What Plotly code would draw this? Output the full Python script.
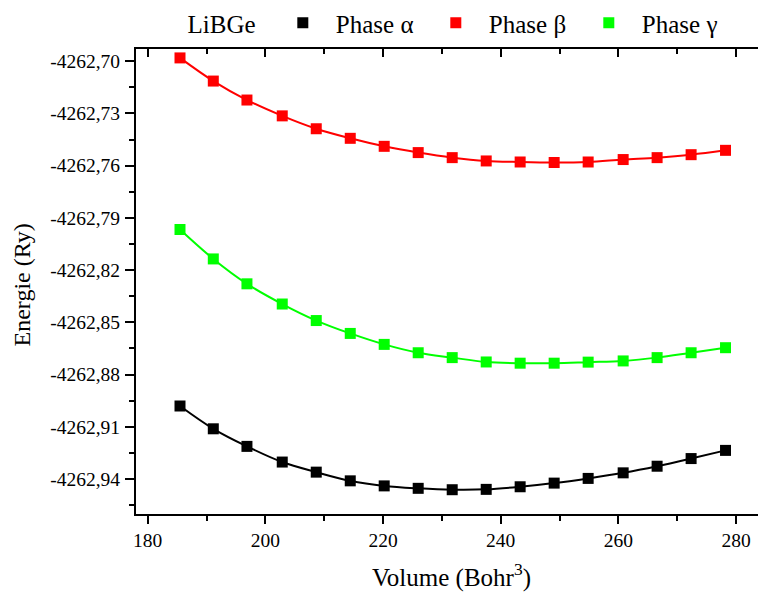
import plotly.graph_objects as go

# ---- data ----
volume = [185.49, 191.15, 196.87, 202.87, 208.65, 214.43, 220.20, 225.98, 231.76,
          237.54, 243.31, 249.09, 254.87, 260.82, 266.59, 272.37, 278.22]

energy_alpha = [-4262.8981, -4262.9112, -4262.9213, -4262.9303, -4262.9361, -4262.9411,
                -4262.9440, -4262.9454, -4262.9462, -4262.9460, -4262.9445, -4262.9424,
                -4262.9397, -4262.9365, -4262.9327, -4262.9283, -4262.9236]
energy_beta = [-4262.6981, -4262.7114, -4262.7223, -4262.7314, -4262.7388, -4262.7443,
               -4262.7489, -4262.7525, -4262.7554, -4262.7573, -4262.7579, -4262.7582,
               -4262.7579, -4262.7565, -4262.7554, -4262.7537, -4262.7512]
energy_gamma = [-4262.7967, -4262.8136, -4262.8279, -4262.8395, -4262.8490, -4262.8564,
                -4262.8627, -4262.8675, -4262.8703, -4262.8728, -4262.8735, -4262.8735,
                -4262.8729, -4262.8722, -4262.8703, -4262.8675, -4262.8646]

series_names = ["Phase α", "Phase β", "Phase γ"]
series_colors = ["#000000", "#FF0000", "#00FF00"]

x_tickvals = [180, 200, 220, 240, 260, 280]
x_ticktext = ["180", "200", "220", "240", "260", "280"]
y_tickvals = [-4262.70, -4262.73, -4262.76, -4262.79, -4262.82, -4262.85,
              -4262.88, -4262.91, -4262.94]
y_ticktext = ["-4262,70", "-4262,73", "-4262,76", "-4262,79", "-4262,82", "-4262,85",
              "-4262,88", "-4262,91", "-4262,94"]

legend_title = "LiBGe\u00a0"
x_title = "Volume (Bohr<sup>3</sup>)"
y_title = "Energie (Ry)"

x_range = [178.01, 283.74]
y_range = [-4262.96015, -4262.69298]

FONT = "Liberation Serif"

fig = go.Figure()
all_series = [energy_alpha, energy_beta, energy_gamma]

for ys, name, col in zip(all_series, series_names, series_colors):
    fig.add_trace(go.Scatter(x=volume, y=ys, mode="lines", line=dict(color=col, width=2, shape="spline"),
                             showlegend=False, hoverinfo="skip"))
for ys, name, col in zip(all_series, series_names, series_colors):
    fig.add_trace(go.Scatter(x=volume, y=ys, mode="markers", name=name,
                             marker=dict(symbol="square", size=11, color=col, line=dict(width=0))))

# invisible trace bound to top axis so it renders
fig.add_trace(go.Scatter(x=[x_range[0]], y=[y_range[0]], xaxis="x2", mode="markers",
                         marker=dict(opacity=0), showlegend=False, hoverinfo="skip"))

axis_common = dict(showgrid=False, zeroline=False, showline=True, linecolor="black", linewidth=2,
                   tickcolor="black", tickwidth=1.5)
tickfont = dict(size=19.5, family=FONT, color="black")

fig.update_layout(
    width=758, height=595,
    margin=dict(l=136, r=0, t=46, b=81),
    paper_bgcolor="white", plot_bgcolor="white",
    font=dict(family=FONT, color="black", size=20),
    xaxis=dict(range=x_range, tickmode="array", tickvals=x_tickvals, ticktext=x_ticktext,
               ticks="outside", ticklen=8, tickfont=tickfont,
               minor=dict(tickmode="linear", tick0=180, dtick=10, ticks="outside", ticklen=5,
                          tickwidth=1.5, tickcolor="black"),
               **axis_common),
    xaxis2=dict(range=x_range, overlaying="x", side="top", tickmode="array", tickvals=x_tickvals,
                showticklabels=False, ticks="inside", ticklen=8,
                minor=dict(tickmode="linear", tick0=180, dtick=10, ticks="inside", ticklen=5,
                           tickwidth=1.5, tickcolor="black"),
                **axis_common),
    yaxis=dict(range=y_range, tickmode="array", tickvals=y_tickvals, ticktext=y_ticktext,
               ticks="outside", ticklen=9, tickfont=tickfont, ticklabelstandoff=1,
               minor=dict(tickmode="linear", tick0=-4262.70, dtick=0.015, ticks="outside", ticklen=5,
                          tickwidth=1.5, tickcolor="black"),
               **axis_common),
    legend=dict(orientation="h", x=0.0796, y=1.1064, xanchor="left", yanchor="top",
                title=dict(text=legend_title, side="left", font=dict(size=25, family=FONT, color="black")),
                font=dict(size=25, family=FONT, color="black"),
                itemwidth=56, entrywidth=82, bgcolor="rgba(0,0,0,0)"),
    annotations=[
        dict(text=x_title, xref="paper", yref="paper", x=0.508, y=-0.1325,
             xanchor="center", yanchor="middle", showarrow=False, font=dict(size=25, family=FONT)),
        dict(text=y_title, xref="paper", yref="paper", x=-0.1833, y=0.4936, textangle=-90,
             xanchor="center", yanchor="middle", showarrow=False, font=dict(size=24, family=FONT)),
    ],
)

fig.write_html("out.html", config={"displayModeBar": False},
               post_script="document.body.style.margin='0';document.body.style.overflow='hidden';")
